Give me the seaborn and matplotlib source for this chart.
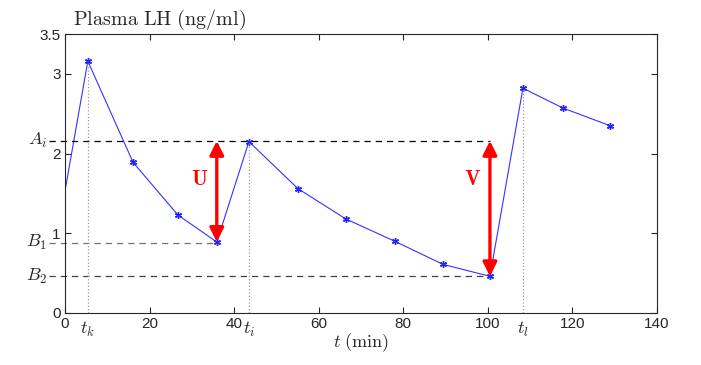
import matplotlib
matplotlib.use("Agg")
import matplotlib.pyplot as plt
import seaborn as sns

# sampled LH concentration
time_min = [0.0, 5.4, 16.1, 26.7, 35.9, 43.5, 55.1, 66.4, 78.0, 89.4, 100.5, 108.3, 117.8, 128.9]
lh_ng_ml = [1.53, 3.16, 1.89, 1.23, 0.89, 2.15, 1.56, 1.18, 0.90, 0.61, 0.46, 2.82, 2.57, 2.35]

# reference levels and marked times
level_names = ["$A_i$", "$B_1$", "$B_2$"]
level_values = [2.16, 0.88, 0.46]
level_ends = [100.5, 35.9, 100.5]
level_colors = ["black", "0.45", "0.25"]

time_names = ["$t_k$", "$t_i$", "$t_l$"]
time_marks = [5.4, 43.5, 108.3]
time_tops = [3.16, 2.15, 2.82]

arrow_names = ["U", "V"]
arrow_x = [35.9, 100.5]
arrow_low = [0.89, 0.46]
arrow_high = [2.16, 2.16]

xticks = [0, 20, 40, 60, 80, 100, 120, 140]
yticks = [0, 1, 2, 3, 3.5]


def main():
    sns.set_style("ticks")
    plt.rcParams["mathtext.fontset"] = "cm"
    plt.rcParams["font.family"] = ["Liberation Sans", "DejaVu Sans"]

    fig = plt.figure(figsize=(7.01, 3.65), dpi=100)
    ax = fig.add_axes([0.0927, 0.1425, 0.8445, 0.7643])

    sns.lineplot(x=time_min, y=lh_ng_ml, ax=ax, color="#3333ff", lw=0.8,
                 marker=(6, 2, 0), markersize=5, markeredgecolor="#2222ff",
                 markeredgewidth=1.0,
                 markevery=list(range(1, len(time_min))))

    for name, val, end, col in zip(level_names, level_values, level_ends, level_colors):
        ax.plot([-3.8, end], [val, val], ls=(0, (5, 4)), color=col, lw=0.9, clip_on=False)
        ax.text(-4.2, val, name, ha="right", va="center", fontsize=13)

    for name, tm, top in zip(time_names, time_marks, time_tops):
        ax.plot([tm, tm], [0, top], ls=":", color="0.6", lw=0.9)
        ax.text(tm, -0.09, name, ha="center", va="top", fontsize=13)

    for name, x, lo, hi in zip(arrow_names, arrow_x, arrow_low, arrow_high):
        ax.annotate("", xy=(x, hi), xytext=(x, lo),
                    arrowprops=dict(arrowstyle="<|-|>,head_length=0.6,head_width=0.3",
                                    color="red", lw=2.4,
                                    mutation_scale=14, shrinkA=0, shrinkB=0))
        ax.text(x - 4, 1.67, r"$\mathbf{" + name + "}$", color="red",
                ha="center", va="center", fontsize=15)

    ax.set_xlim(0, 140)
    ax.set_ylim(0, 3.5)
    ax.set_xticks(xticks)
    ax.set_yticks(yticks)
    ax.set_yticklabels(["0", "1", "2", "3", "3.5"])
    ax.tick_params(direction="in", top=True, right=True, labelsize=11, length=4,
                   pad=3)
    for side in ["top", "right", "bottom", "left"]:
        ax.spines[side].set_visible(True)
        ax.spines[side].set_linewidth(0.8)
    ax.set_xlabel(r"$t\ \mathrm{(min)}$", fontsize=13, labelpad=0)
    ax.set_ylabel("")
    fig.text(0.104, 0.945, r"$\mathrm{Plasma\ LH\ (ng/ml)}$", fontsize=14.5, ha="left", va="center")

    fig.savefig("out.png", dpi=100)
    plt.close(fig)


if __name__ == "__main__":
    main()
